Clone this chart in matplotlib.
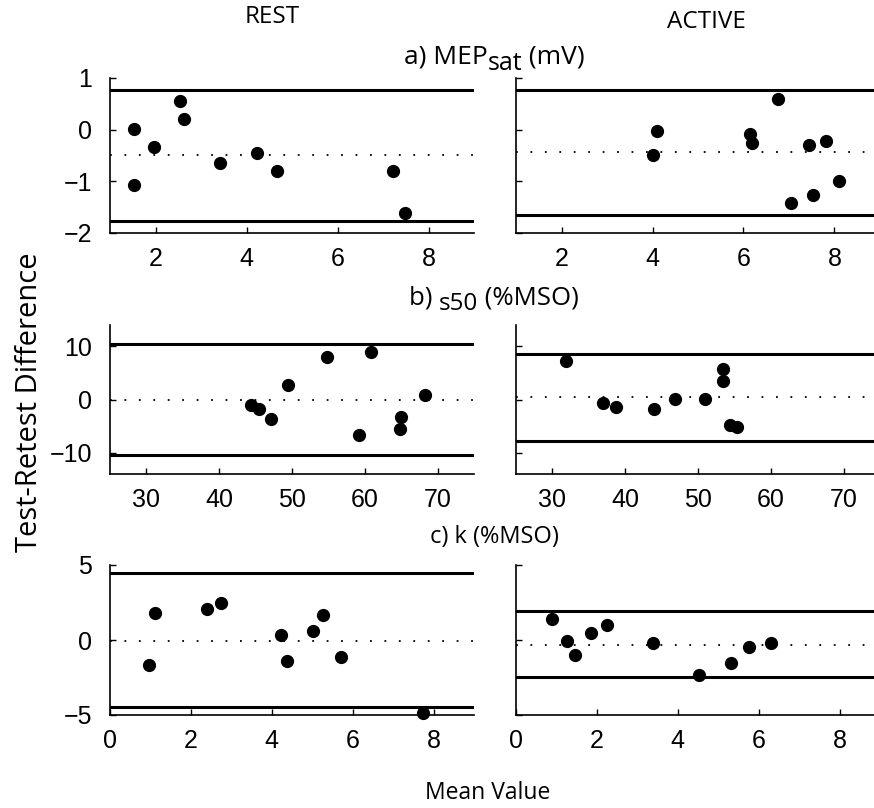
import matplotlib
matplotlib.use("Agg")
import matplotlib.pyplot as plt

# a) MEPsat (mV)
a_rest_x = [1.52, 1.52, 1.96, 2.53, 2.62, 3.41, 4.24, 4.68, 7.22, 7.48]
a_rest_y = [0.02, -1.08, -0.33, 0.56, 0.20, -0.64, -0.45, -0.80, -0.80, -1.62]
a_rest_lim = [-0.49, 0.76, -1.76]          # mean, upper, lower
a_act_x = [4.09, 4.00, 6.14, 6.18, 6.75, 7.05, 7.45, 7.53, 7.81, 8.10]
a_act_y = [-0.02, -0.50, -0.09, -0.26, 0.60, -1.42, -0.30, -1.26, -0.22, -0.99]
a_act_lim = [-0.44, 0.76, -1.65]

# b) s50 (%MSO)
b_rest_x = [44.3, 45.5, 47.1, 49.4, 54.8, 59.2, 60.9, 64.8, 65.0, 68.3]
b_rest_y = [-0.98, -1.74, -3.62, 2.79, 8.08, -6.64, 8.9, -5.5, -3.25, 0.9]
b_rest_lim = [-0.1, 10.4, -10.4]
b_act_x = [31.9, 36.9, 38.8, 44.0, 46.8, 51.0, 53.4, 53.4, 54.4, 55.4]
b_act_y = [7.26, -0.66, -1.42, -1.79, 0.09, 0.09, 5.75, 3.49, -4.81, -5.19]
b_act_lim = [0.42, 8.53, -7.77]

# c) k (%MSO)
c_rest_x = [0.96, 1.12, 2.40, 2.74, 4.22, 4.38, 5.02, 5.27, 5.72, 7.74]
c_rest_y = [-1.67, 1.82, 2.07, 2.49, 0.33, -1.38, 0.62, 1.67, -1.11, -4.87]
c_rest_lim = [-0.05, 4.47, -4.45]
c_act_x = [0.90, 1.26, 1.46, 1.85, 2.25, 3.39, 4.53, 5.32, 5.76, 6.31]
c_act_y = [1.40, -0.05, -1.00, 0.47, 1.00, -0.20, -2.33, -1.53, -0.45, -0.20]
c_act_lim = [-0.33, 1.93, -2.45]

# title pieces: (text, lowered?)
titles = [
    [("a) MEP", False), ("sat", True), (" (mV)", False)],
    [("b) ", False), ("s50", True), (" (%MSO)", False)],
    [("c) k (%MSO)", False)],
]
title_size = [19, 18.5, 17]
xlims = [(1, 9), (25, 75), (0, 9)]
xticks = [[2, 4, 6, 8], [30, 40, 50, 60, 70], [0, 2, 4, 6, 8]]
ylims = [(-2, 1), (-14, 14), (-5, 5)]
yticks = [[-2, -1, 0, 1], [-10, 0, 10], [-5, 0, 5]]

panels = [
    [(a_rest_x, a_rest_y, a_rest_lim), (a_act_x, a_act_y, a_act_lim)],
    [(b_rest_x, b_rest_y, b_rest_lim), (b_act_x, b_act_y, b_act_lim)],
    [(c_rest_x, c_rest_y, c_rest_lim), (c_act_x, c_act_y, c_act_lim)],
]

W, H = 874, 808
fig = plt.figure(figsize=(W / 100, H / 100), dpi=100)
renderer = fig.canvas.get_renderer()

col_px = [(110, 474), (516, 880)]
row_px = [(78, 233), (325, 474), (565, 715)]
title_y = [57, 298, 537]
tfont = "Open Sans"
nfont = "Liberation Sans"


def piece_title(parts, cx, cy, fs):
    # draw text pieces side by side, then shift them so the whole is centred
    objs = []
    x = 0.0
    for txt, low in parts:
        size = fs - 1 if low else fs
        dy = -6 if low else 0
        t = fig.text(x / W, 1 - (cy - dy) / H, txt, ha="left", va="center",
                     fontsize=size, family=tfont)
        w = t.get_window_extent(renderer).width
        objs.append((t, x, dy))
        x += w
    start = cx - x / 2
    for t, off, dy in objs:
        t.set_x((start + off) / W)


for r in range(3):
    for c in range(2):
        x0, x1 = col_px[c]
        t, b = row_px[r]
        ax = fig.add_axes([x0 / W, 1 - b / H, (x1 - x0) / W, (b - t) / H])
        xs, ys, lim = panels[r][c]
        ax.axhline(lim[0], color="black", lw=1.3, ls=(0, (1, 7)))
        ax.axhline(lim[1], color="black", lw=2.2)
        ax.axhline(lim[2], color="black", lw=2.2)
        ax.plot(xs, ys, "o", color="black", ms=8.5, clip_on=False, zorder=5)
        ax.set_xlim(*xlims[r])
        ax.set_ylim(*ylims[r])
        ax.set_xticks(xticks[r])
        ax.set_yticks(yticks[r])
        for s in ["top", "right"]:
            ax.spines[s].set_visible(False)
        for s in ["left", "bottom"]:
            ax.spines[s].set_linewidth(1.2)
        ax.tick_params(direction="in", length=4, width=1, labelsize=18, pad=10)
        ax.tick_params(axis="y", pad=13)
        for lab in ax.get_xticklabels() + ax.get_yticklabels():
            lab.set_fontfamily(nfont)
        if c == 1:
            ax.set_yticklabels([])
    piece_title(titles[r], 494, title_y[r], title_size[r])

fig.text(272 / W, 1 - 17 / H, "REST", ha="center", va="center", fontsize=17.5, family=tfont)
fig.text(706 / W, 1 - 22 / H, "ACTIVE", ha="center", va="center", fontsize=17.5, family=tfont)
fig.text(30 / W, 1 - 402 / H, "Test-Retest Difference", rotation=90,
         ha="center", va="center", fontsize=21, family=tfont)
fig.text(488 / W, 1 - 793 / H, "Mean Value", ha="center", va="center", fontsize=16.5, family=tfont)

fig.savefig("out.png", dpi=100)
